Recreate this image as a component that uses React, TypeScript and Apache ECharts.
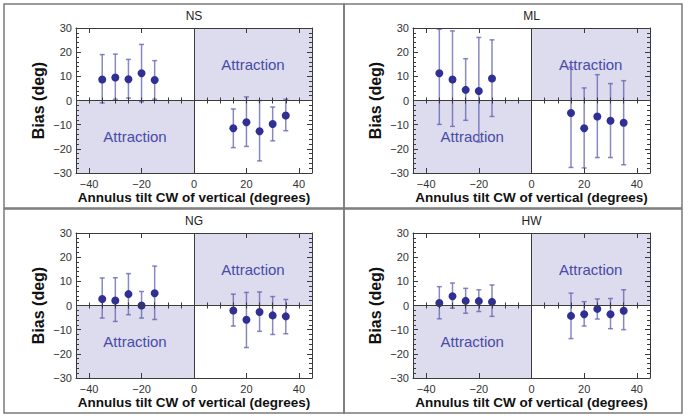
import React, { useEffect, useRef } from "react";
import * as echarts from "echarts";

// ---- data ----
const panelNames = ["NS", "ML", "NG", "HW"];
const tilts = [-35, -30, -25, -20, -15, 15, 20, 25, 30, 35];

const nsBias = [8.7, 9.5, 8.8, 11.3, 8.5, -11.5, -9.0, -12.7, -9.7, -6.2];
const nsLow = [-1.0, 0.5, 1.0, -0.5, 0.5, -19.5, -19.0, -25.0, -16.7, -12.5];
const nsHigh = [19.0, 19.2, 17.0, 23.2, 16.5, -3.5, 1.5, 0.0, -2.7, 0.5];

const mlBias = [11.3, 8.7, 4.4, 3.9, 9.1, -5.2, -11.5, -6.6, -8.4, -9.2];
const mlLow = [-9.9, -10.7, -8.2, -17.2, -6.6, -27.7, -27.9, -23.6, -23.6, -26.6];
const mlHigh = [29.5, 28.8, 17.3, 26.1, 25.1, 13.7, 5.2, 10.7, 7.0, 8.2];

const ngBias = [2.7, 2.1, 4.7, 0.0, 5.1, -2.1, -5.9, -2.7, -4.1, -4.5];
const ngLow = [-5.2, -6.6, -3.8, -5.2, -5.8, -8.5, -17.4, -10.7, -12.0, -11.7];
const ngHigh = [11.4, 11.5, 13.2, 5.8, 16.3, 4.7, 5.4, 5.6, 3.7, 2.5];

const hwBias = [1.0, 3.8, 1.9, 1.8, 1.5, -4.3, -3.6, -1.4, -3.6, -2.2];
const hwLow = [-5.5, -1.1, -3.2, -2.5, -4.5, -13.7, -8.5, -5.6, -9.6, -10.0];
const hwHigh = [7.8, 9.3, 7.1, 6.5, 8.5, 5.1, 1.6, 2.7, 2.9, 6.5];

const xMajorTicks = [-40, -20, 0, 20, 40];
const xMin = -45;
const xMax = 45;
const yMin = -30;
const yMax = 30;
const shadeLabel = "Attraction";
const xName = "Annulus tilt CW of vertical (degrees)";
const yName = "Bias (deg)";

const panelData = [
  { bias: nsBias, low: nsLow, high: nsHigh },
  { bias: mlBias, low: mlLow, high: mlHigh },
  { bias: ngBias, low: ngLow, high: ngHigh },
  { bias: hwBias, low: hwLow, high: hwHigh },
];

// ---- layout / style ----
const gridRects = [
  { left: 76, top: 28, width: 236, height: 145 },
  { left: 413, top: 28, width: 237, height: 145 },
  { left: 76, top: 233, width: 236, height: 145 },
  { left: 413, top: 233, width: 237, height: 145 },
];
const panelBoxes = [
  { x: 4, y: 4, width: 340, height: 204 },
  { x: 344, y: 4, width: 338, height: 204 },
  { x: 4, y: 209, width: 340, height: 204 },
  { x: 344, y: 209, width: 338, height: 204 },
];

const FONT = "'Liberation Sans', Arial, Helvetica, sans-serif";
const FRAME = "#3a3a3a";
const POINT = "#2f2f94";
const BAR = "rgba(96,96,176,0.75)";
const SHADE = "#dcdcee";
const SHADE_TEXT = "#4a4aa6";

const minus = (v: number) => (v < 0 ? "\u2212" + Math.abs(v) : String(v));

export default function App() {
  const ref = useRef<HTMLDivElement>(null);

  useEffect(() => {
    if (!ref.current) return;
    const chart = echarts.init(ref.current, undefined, { renderer: "svg" });

    const xAxes: any[] = [];
    const yAxes: any[] = [];
    const series: any[] = [];
    const graphics: any[] = [];

    gridRects.forEach((g, gi) => {
      const tickBase = {
        show: true,
        inside: true,
        lineStyle: { color: FRAME, width: 1 },
      };
      // bottom major (labels)
      xAxes.push({
        type: "value",
        gridIndex: gi,
        position: "bottom",
        min: xMin,
        max: xMax,
        z: 10,
        axisLine: { show: true, onZero: false, lineStyle: { color: FRAME, width: 1 } },
        axisTick: { ...tickBase, length: 5, customValues: xMajorTicks },
        axisLabel: {
          customValues: xMajorTicks,
          formatter: minus,
          color: "#333",
          fontSize: 11,
          fontFamily: FONT,
          margin: 5,
        },
        splitLine: { show: false },
        name: xName,
        nameLocation: "middle",
        nameGap: 17,
        nameTextStyle: { fontSize: 13.5, fontWeight: "bold", color: "#111", fontFamily: FONT },
      });
      // bottom minor
      xAxes.push({
        type: "value",
        gridIndex: gi,
        position: "bottom",
        min: xMin,
        max: xMax,
        interval: 5,
        z: 10,
        axisLine: { show: false },
        axisTick: { ...tickBase, length: 3 },
        axisLabel: { show: false },
        splitLine: { show: false },
      });
      // top major
      xAxes.push({
        type: "value",
        gridIndex: gi,
        position: "top",
        min: xMin,
        max: xMax,
        z: 10,
        axisLine: { show: true, onZero: false, lineStyle: { color: FRAME, width: 1 } },
        axisTick: { ...tickBase, length: 5, customValues: xMajorTicks },
        axisLabel: { show: false },
        splitLine: { show: false },
      });
      // top minor
      xAxes.push({
        type: "value",
        gridIndex: gi,
        position: "top",
        min: xMin,
        max: xMax,
        interval: 5,
        z: 10,
        axisLine: { show: false },
        axisTick: { ...tickBase, length: 3 },
        axisLabel: { show: false },
        splitLine: { show: false },
      });
      // left
      yAxes.push({
        type: "value",
        gridIndex: gi,
        position: "left",
        min: yMin,
        max: yMax,
        interval: 10,
        z: 10,
        axisLine: { show: true, onZero: false, lineStyle: { color: FRAME, width: 1 } },
        axisTick: { ...tickBase, length: 5 },
        minorTick: { show: true, splitNumber: 5, length: 3, lineStyle: { color: FRAME, width: 1 } },
        axisLabel: { formatter: minus, color: "#333", fontSize: 11, fontFamily: FONT, margin: 4 },
        splitLine: { show: false },
        minorSplitLine: { show: false },
        name: yName,
        nameLocation: "middle",
        nameGap: 30,
        nameTextStyle: { fontSize: 16, fontWeight: "bold", color: "#111", fontFamily: FONT },
      });
      // right
      yAxes.push({
        type: "value",
        gridIndex: gi,
        position: "right",
        min: yMin,
        max: yMax,
        interval: 10,
        z: 10,
        axisLine: { show: true, onZero: false, lineStyle: { color: FRAME, width: 1 } },
        axisTick: { ...tickBase, length: 5 },
        minorTick: { show: true, splitNumber: 5, length: 3, lineStyle: { color: FRAME, width: 1 } },
        axisLabel: { show: false },
        splitLine: { show: false },
        minorSplitLine: { show: false },
      });

      const d = panelData[gi];
      const xi = gi * 4;
      const yi = gi * 2;

      // shaded quadrants + zero lines
      series.push({
        type: "line",
        xAxisIndex: xi,
        yAxisIndex: yi,
        data: [],
        z: 1,
        silent: true,
        markArea: {
          silent: true,
          itemStyle: { color: SHADE },
          label: {
            show: true,
            position: "inside",
            color: SHADE_TEXT,
            fontSize: 15,
            fontFamily: FONT,
          },
          data: [
            [
              { name: shadeLabel, xAxis: xMin, yAxis: yMin },
              { xAxis: 0, yAxis: 0 },
            ],
            [
              { name: shadeLabel, xAxis: 0, yAxis: 0 },
              { xAxis: xMax, yAxis: yMax },
            ],
          ],
        },
        markLine: {
          silent: true,
          symbol: "none",
          label: { show: false },
          lineStyle: { color: FRAME, width: 1, type: "solid" },
          data: [{ xAxis: 0 }, { yAxis: 0 }],
        },
      });

      // error bars
      series.push({
        type: "custom",
        xAxisIndex: xi,
        yAxisIndex: yi,
        z: 3,
        data: tilts.map((t, i) => [t, d.low[i], d.high[i]]),
        encode: { x: 0, y: [1, 2] },
        renderItem: (params: any, api: any) => {
          const x = api.value(0);
          const lo = api.coord([x, api.value(1)]);
          const hi = api.coord([x, api.value(2)]);
          const cap = 2.5;
          const style = { stroke: BAR, lineWidth: 1.5 };
          return {
            type: "group",
            children: [
              { type: "line", shape: { x1: lo[0], y1: lo[1], x2: hi[0], y2: hi[1] }, style },
              { type: "line", shape: { x1: lo[0] - cap, y1: lo[1], x2: lo[0] + cap, y2: lo[1] }, style },
              { type: "line", shape: { x1: hi[0] - cap, y1: hi[1], x2: hi[0] + cap, y2: hi[1] }, style },
            ],
          };
        },
      });

      // points
      series.push({
        type: "scatter",
        xAxisIndex: xi,
        yAxisIndex: yi,
        z: 4,
        symbol: "circle",
        symbolSize: 8,
        itemStyle: { color: POINT, opacity: 1 },
        data: tilts.map((t, i) => [t, d.bias[i]]),
      });

      // panel title
      graphics.push({
        type: "text",
        x: g.left + g.width / 2,
        y: g.top - 12,
        style: {
          text: panelNames[gi],
          align: "center",
          verticalAlign: "middle",
          textAlign: "center",
          textVerticalAlign: "middle",
          fontSize: 12,
          fontFamily: FONT,
          fill: "#222",
        },
      });
    });

    panelBoxes.forEach((b) => {
      graphics.push({
        type: "rect",
        shape: { x: b.x, y: b.y, width: b.width, height: b.height },
        style: { fill: "none", stroke: "#7a7a7a", lineWidth: 1.5 },
        silent: true,
      });
    });

    chart.setOption({
      animation: false,
      backgroundColor: "#ffffff",
      grid: gridRects.map((g) => ({ ...g, containLabel: false, show: false })),
      xAxis: xAxes,
      yAxis: yAxes,
      series,
      graphic: graphics,
    });

    return () => chart.dispose();
  }, []);

  return (
    <div
      ref={ref}
      style={{ position: "fixed", left: 0, top: 0, width: 689, height: 418, background: "#fff" }}
    />
  );
}
